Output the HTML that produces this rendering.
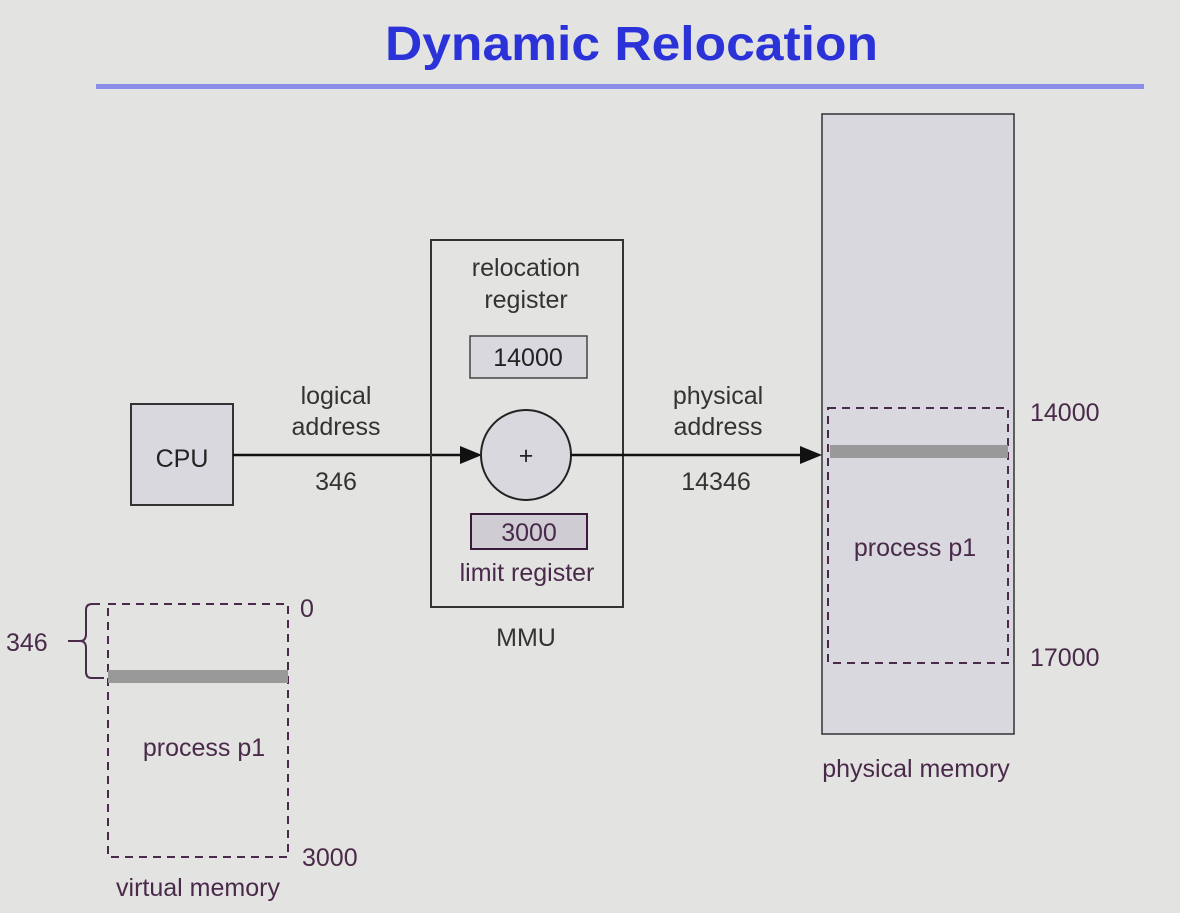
<!DOCTYPE html>
<html><head><style>
html,body{margin:0;padding:0;background:#e3e3e1;}
svg{display:block;}
text{font-family:"Liberation Sans",sans-serif;}
</style></head><body>
<svg width="1180" height="913" viewBox="0 0 1180 913" xmlns="http://www.w3.org/2000/svg">
<rect width="1180" height="913" fill="#e3e3e1"/>
<text x="385" y="60" font-size="48" font-weight="bold" fill="#2b32d8" textLength="493" lengthAdjust="spacingAndGlyphs">Dynamic Relocation</text>
<rect x="96" y="84" width="1048" height="5" fill="#8a8ee8"/>

<g font-size="25">
<!-- physical memory -->
<rect x="822" y="114" width="192" height="620" fill="#d8d8de" stroke="#333" stroke-width="1.5"/>
<rect x="828" y="408" width="180" height="255" fill="none" stroke="#4a2a4a" stroke-width="2" stroke-dasharray="8,6"/>
<rect x="830" y="445" width="178" height="13" fill="#999"/>
<text x="915" y="556" fill="#4a2a4a" text-anchor="middle">process p1</text>
<text x="1030" y="421" fill="#4a2a4a">14000</text>
<text x="1030" y="666" fill="#4a2a4a">17000</text>
<text x="916" y="777" fill="#4a2a4a" text-anchor="middle">physical memory</text>

<!-- CPU -->
<rect x="131" y="404" width="102" height="101" fill="#d8d8de" stroke="#333" stroke-width="2"/>
<text x="182" y="467" fill="#222" text-anchor="middle">CPU</text>
<line x1="233" y1="455" x2="466" y2="455" stroke="#111" stroke-width="2.5"/>
<polygon points="482,455 460,446 460,464" fill="#111"/>
<text x="336" y="404" fill="#333" text-anchor="middle">logical</text>
<text x="336" y="435" fill="#333" text-anchor="middle">address</text>
<text x="336" y="490" fill="#333" text-anchor="middle">346</text>

<!-- MMU -->
<rect x="431" y="240" width="192" height="367" fill="none" stroke="#333" stroke-width="2"/>
<text x="526" y="276" fill="#333" text-anchor="middle">relocation</text>
<text x="526" y="308" fill="#333" text-anchor="middle">register</text>
<rect x="470" y="336" width="117" height="42" fill="#d8d8de" stroke="#444" stroke-width="1.5"/>
<text x="528" y="366" fill="#222" text-anchor="middle">14000</text>
<circle cx="526" cy="455" r="45" fill="#d8d8de" stroke="#222" stroke-width="2"/>
<text x="526" y="464" fill="#222" text-anchor="middle">+</text>
<rect x="471" y="514" width="116" height="35" fill="#d0ccd4" stroke="#3a1a3a" stroke-width="2"/>
<text x="529" y="541" fill="#4a2a4a" text-anchor="middle">3000</text>
<text x="527" y="581" fill="#4a2a4a" text-anchor="middle">limit register</text>
<text x="526" y="646" fill="#333" text-anchor="middle">MMU</text>

<line x1="571" y1="455" x2="806" y2="455" stroke="#111" stroke-width="2.5"/>
<polygon points="822,455 800,446 800,464" fill="#111"/>
<text x="718" y="404" fill="#333" text-anchor="middle">physical</text>
<text x="718" y="435" fill="#333" text-anchor="middle">address</text>
<text x="716" y="490" fill="#333" text-anchor="middle">14346</text>

<!-- virtual memory -->
<rect x="108" y="604" width="180" height="253" fill="none" stroke="#4a2a4a" stroke-width="2" stroke-dasharray="8,6"/>
<rect x="108" y="670" width="180" height="13" fill="#999"/>
<path d="M100,604 H92 Q86,604 86,610 V634 Q86,641 80,641 Q86,641 86,648 V672 Q86,678 92,678 H104" fill="none" stroke="#4a2a4a" stroke-width="2"/>
<line x1="68" y1="641" x2="80" y2="641" stroke="#4a2a4a" stroke-width="2"/>
<text x="6" y="651" fill="#4a2a4a">346</text>
<text x="300" y="617" fill="#4a2a4a">0</text>
<text x="204" y="756" fill="#4a2a4a" text-anchor="middle">process p1</text>
<text x="302" y="866" fill="#4a2a4a">3000</text>
<text x="198" y="896" fill="#4a2a4a" text-anchor="middle">virtual memory</text>
</g>
</svg>
</body></html>
